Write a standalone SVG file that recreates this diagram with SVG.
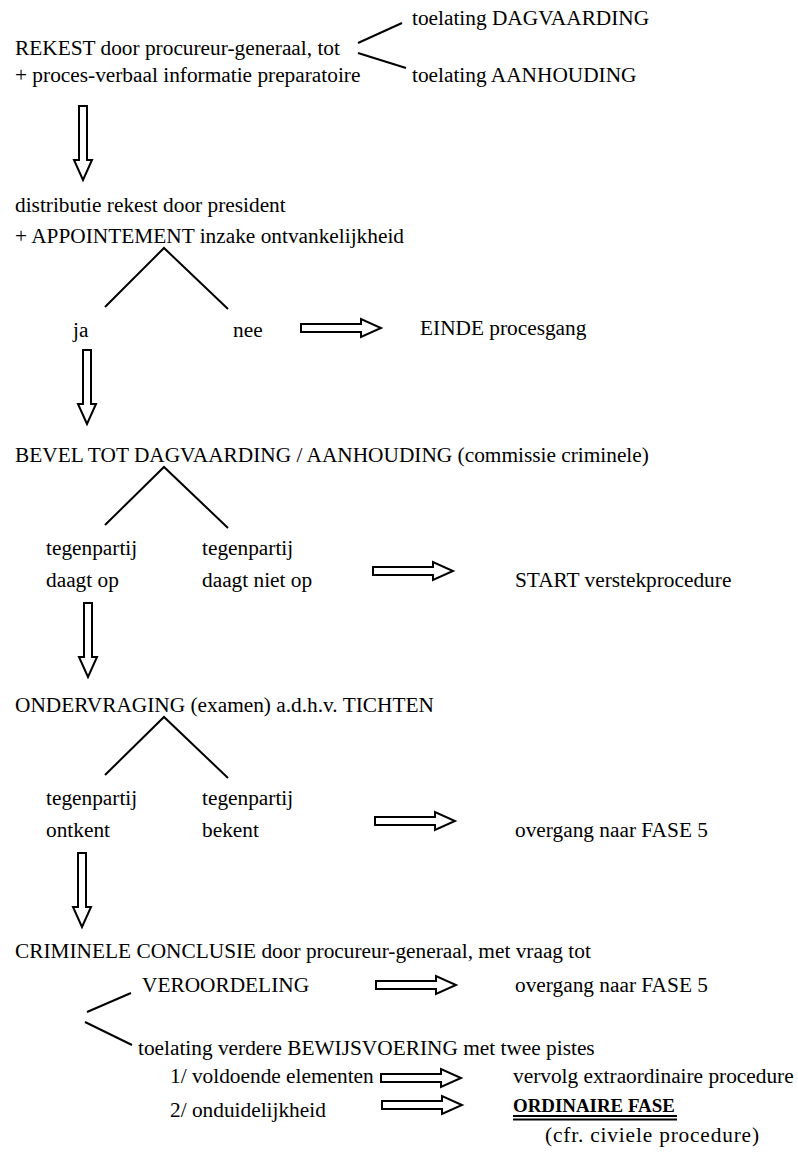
<svg xmlns="http://www.w3.org/2000/svg" xmlns:xlink="http://www.w3.org/1999/xlink" width="798" height="1153" viewBox="0 0 798 1153">
<style>
text{font-family:"Liberation Serif","Times New Roman",serif;font-size:21.33px;fill:#000}
.b{font-weight:bold;font-size:18.9px}
.ln{stroke:#000;stroke-width:2;fill:none}
.ar{stroke:#000;stroke-width:2;fill:#fff;stroke-linejoin:miter}
</style>
<defs>
<path id="ra" d="M0,-4 H60 V-9 L80,0 L60,9 V4 H0 Z"/>
<path id="da" d="M-4,0 V54 H-9 L0,74 L9,54 H4 V0 Z"/>
</defs>
<rect width="798" height="1153" fill="#fff"/>
<g id="connectors">
<path class="ln" d="M358,43 L402,23 M358,53 L406,68"/>
<path class="ln" d="M105,307 L164,248 L228,309"/>
<path class="ln" d="M105,525 L164,467 L228,528"/>
<path class="ln" d="M105,775 L164,717 L228,778"/>
<path class="ln" d="M87,1012 L131,993 M85,1022 L132,1045"/>
<use xlink:href="#da" class="ar" transform="translate(83,106)"/>
<use xlink:href="#da" class="ar" transform="translate(87,350)"/>
<use xlink:href="#da" class="ar" transform="translate(88,603)"/>
<use xlink:href="#da" class="ar" transform="translate(82,853)"/>
<use xlink:href="#ra" class="ar" transform="translate(301,328)"/>
<use xlink:href="#ra" class="ar" transform="translate(373,571)"/>
<use xlink:href="#ra" class="ar" transform="translate(375,821)"/>
<use xlink:href="#ra" class="ar" transform="translate(376,985)"/>
<use xlink:href="#ra" class="ar" transform="translate(381,1078)"/>
<use xlink:href="#ra" class="ar" transform="translate(382,1105)"/>
</g>
<g id="rekest"><text x="15" y="55">REKEST door procureur-generaal, tot</text><text x="15" y="82">+ proces-verbaal informatie preparatoire</text></g>
<g id="toelating-dagvaarding"><text x="412" y="25">toelating DAGVAARDING</text></g>
<g id="toelating-aanhouding"><text x="412" y="82">toelating AANHOUDING</text></g>
<g id="distributie"><text x="15" y="212">distributie rekest door president</text><text x="15" y="243">+ APPOINTEMENT inzake ontvankelijkheid</text></g>
<g id="ja"><text x="73" y="337">ja</text></g>
<g id="nee"><text x="233" y="337">nee</text></g>
<g id="einde"><text x="420" y="335">EINDE procesgang</text></g>
<g id="bevel"><text x="15" y="462">BEVEL TOT DAGVAARDING / AANHOUDING (commissie criminele)</text></g>
<g id="daagt-op"><text x="46" y="555">tegenpartij</text><text x="46" y="587">daagt op</text></g>
<g id="daagt-niet-op"><text x="202" y="555">tegenpartij</text><text x="202" y="587">daagt niet op</text></g>
<g id="start-verstek"><text x="515" y="587">START verstekprocedure</text></g>
<g id="ondervraging"><text x="15" y="712">ONDERVRAGING (examen) a.d.h.v. TICHTEN</text></g>
<g id="ontkent"><text x="46" y="805">tegenpartij</text><text x="46" y="837">ontkent</text></g>
<g id="bekent"><text x="202" y="805">tegenpartij</text><text x="202" y="837">bekent</text></g>
<g id="fase5-a"><text x="515" y="837">overgang naar FASE 5</text></g>
<g id="conclusie"><text x="15" y="958">CRIMINELE CONCLUSIE door procureur-generaal, met vraag tot</text></g>
<g id="veroordeling"><text x="142" y="992">VEROORDELING</text></g>
<g id="fase5-b"><text x="515" y="992">overgang naar FASE 5</text></g>
<g id="bewijsvoering"><text x="138" y="1055">toelating verdere BEWIJSVOERING met twee pistes</text></g>
<g id="voldoende"><text x="170" y="1083">1/ voldoende elementen</text></g>
<g id="vervolg"><text x="513" y="1083">vervolg extraordinaire procedure</text></g>
<g id="onduidelijkheid"><text x="170" y="1117">2/ onduidelijkheid</text></g>
<g id="ordinaire"><text class="b" x="513" y="1112">ORDINAIRE FASE</text><path class="ln" stroke-width="1.3" d="M513,1116 H677 M513,1119.5 H677"/><text x="545" y="1142" textLength="214" lengthAdjust="spacing">(cfr. civiele procedure)</text></g>
</svg>
